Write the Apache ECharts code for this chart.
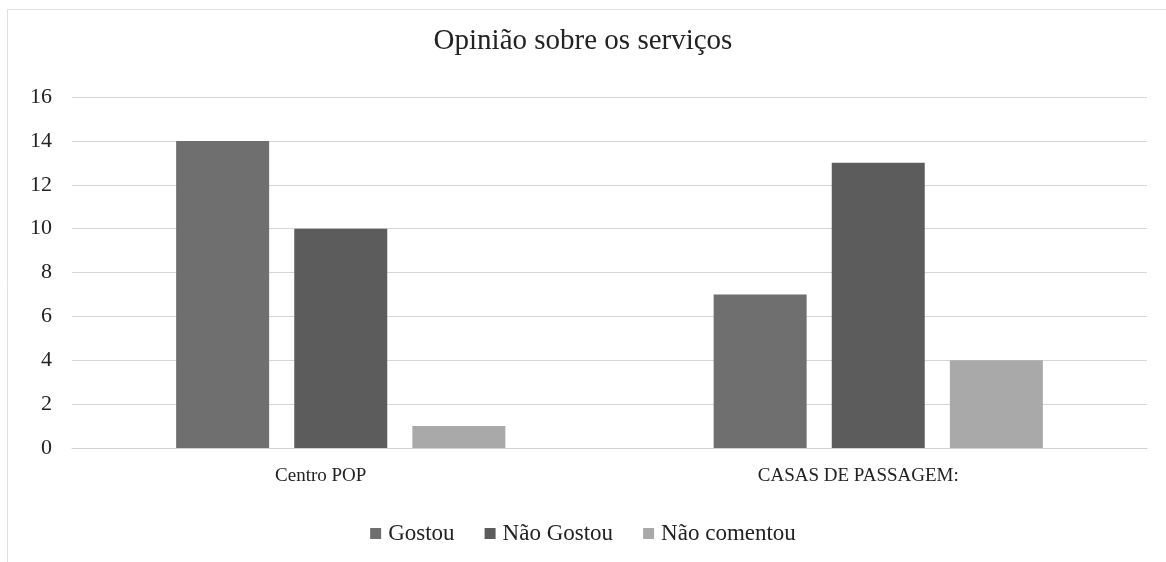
<!DOCTYPE html>
<html>
<head>
<meta charset="utf-8">
<script src="https://cdn.jsdelivr.net/npm/echarts@6/dist/echarts.min.js"></script>
<style>
html,body{margin:0;padding:0;background:#fff;}
#chart{width:1166px;height:562px;}
</style>
</head>
<body>
<div id="chart"></div>
<script>
const title = 'Opinião sobre os serviços';
const categories = ['Centro POP', 'CASAS DE PASSAGEM:'];
const seriesNames = ['Gostou', 'Não Gostou', 'Não comentou'];
const gostou = [14, 7];
const naoGostou = [10, 13];
const naoComentou = [1, 4];
const colors = ['#6f6f6f', '#5c5c5c', '#a9a9a9'];
const fontFam = 'Liberation Serif, DejaVu Serif, serif';

const chart = echarts.init(document.getElementById('chart'), null, {renderer: 'canvas'});
const values = [gostou, naoGostou, naoComentou];
chart.setOption({
  animation: false,
  backgroundColor: '#fff',
  title: {
    text: title, left: 'center', top: 22,
    textStyle: {fontFamily: fontFam, fontSize: 29, fontWeight: 'normal', color: '#222'}
  },
  legend: {
    bottom: 12, left: 'center', itemWidth: 11, itemHeight: 11, itemGap: 30,
    icon: 'rect',
    textStyle: {fontFamily: fontFam, fontSize: 23, color: '#222', padding: [0, 0, 0, 2]},
    data: seriesNames
  },
  grid: {left: 72, right: 19, top: 97, bottom: 114, containLabel: false},
  xAxis: {
    type: 'category', data: categories,
    axisLine: {show: true, lineStyle: {color: '#d0d0d0'}},
    axisTick: {show: false},
    axisLabel: {fontFamily: fontFam, fontSize: 19, color: '#222', margin: 19, padding: [0, 40, 0, 0]}
  },
  yAxis: {
    type: 'value', min: 0, max: 16, interval: 2,
    axisLine: {show: false}, axisTick: {show: false},
    axisLabel: {fontFamily: fontFam, fontSize: 22, color: '#222', margin: 20},
    splitLine: {lineStyle: {color: '#d6d6d6', width: 1}}
  },
  graphic: [{
    type: 'rect', shape: {x: 7.5, y: 9.5, width: 1200, height: 600},
    style: {fill: 'none', stroke: '#e0e0e0', lineWidth: 1}, silent: true
  }],
  series: seriesNames.map((n, i) => ({
    name: n, type: 'bar', data: values[i], barWidth: 93, barGap: '27%',
    itemStyle: {color: colors[i]}
  }))
});
</script>
</body>
</html>
